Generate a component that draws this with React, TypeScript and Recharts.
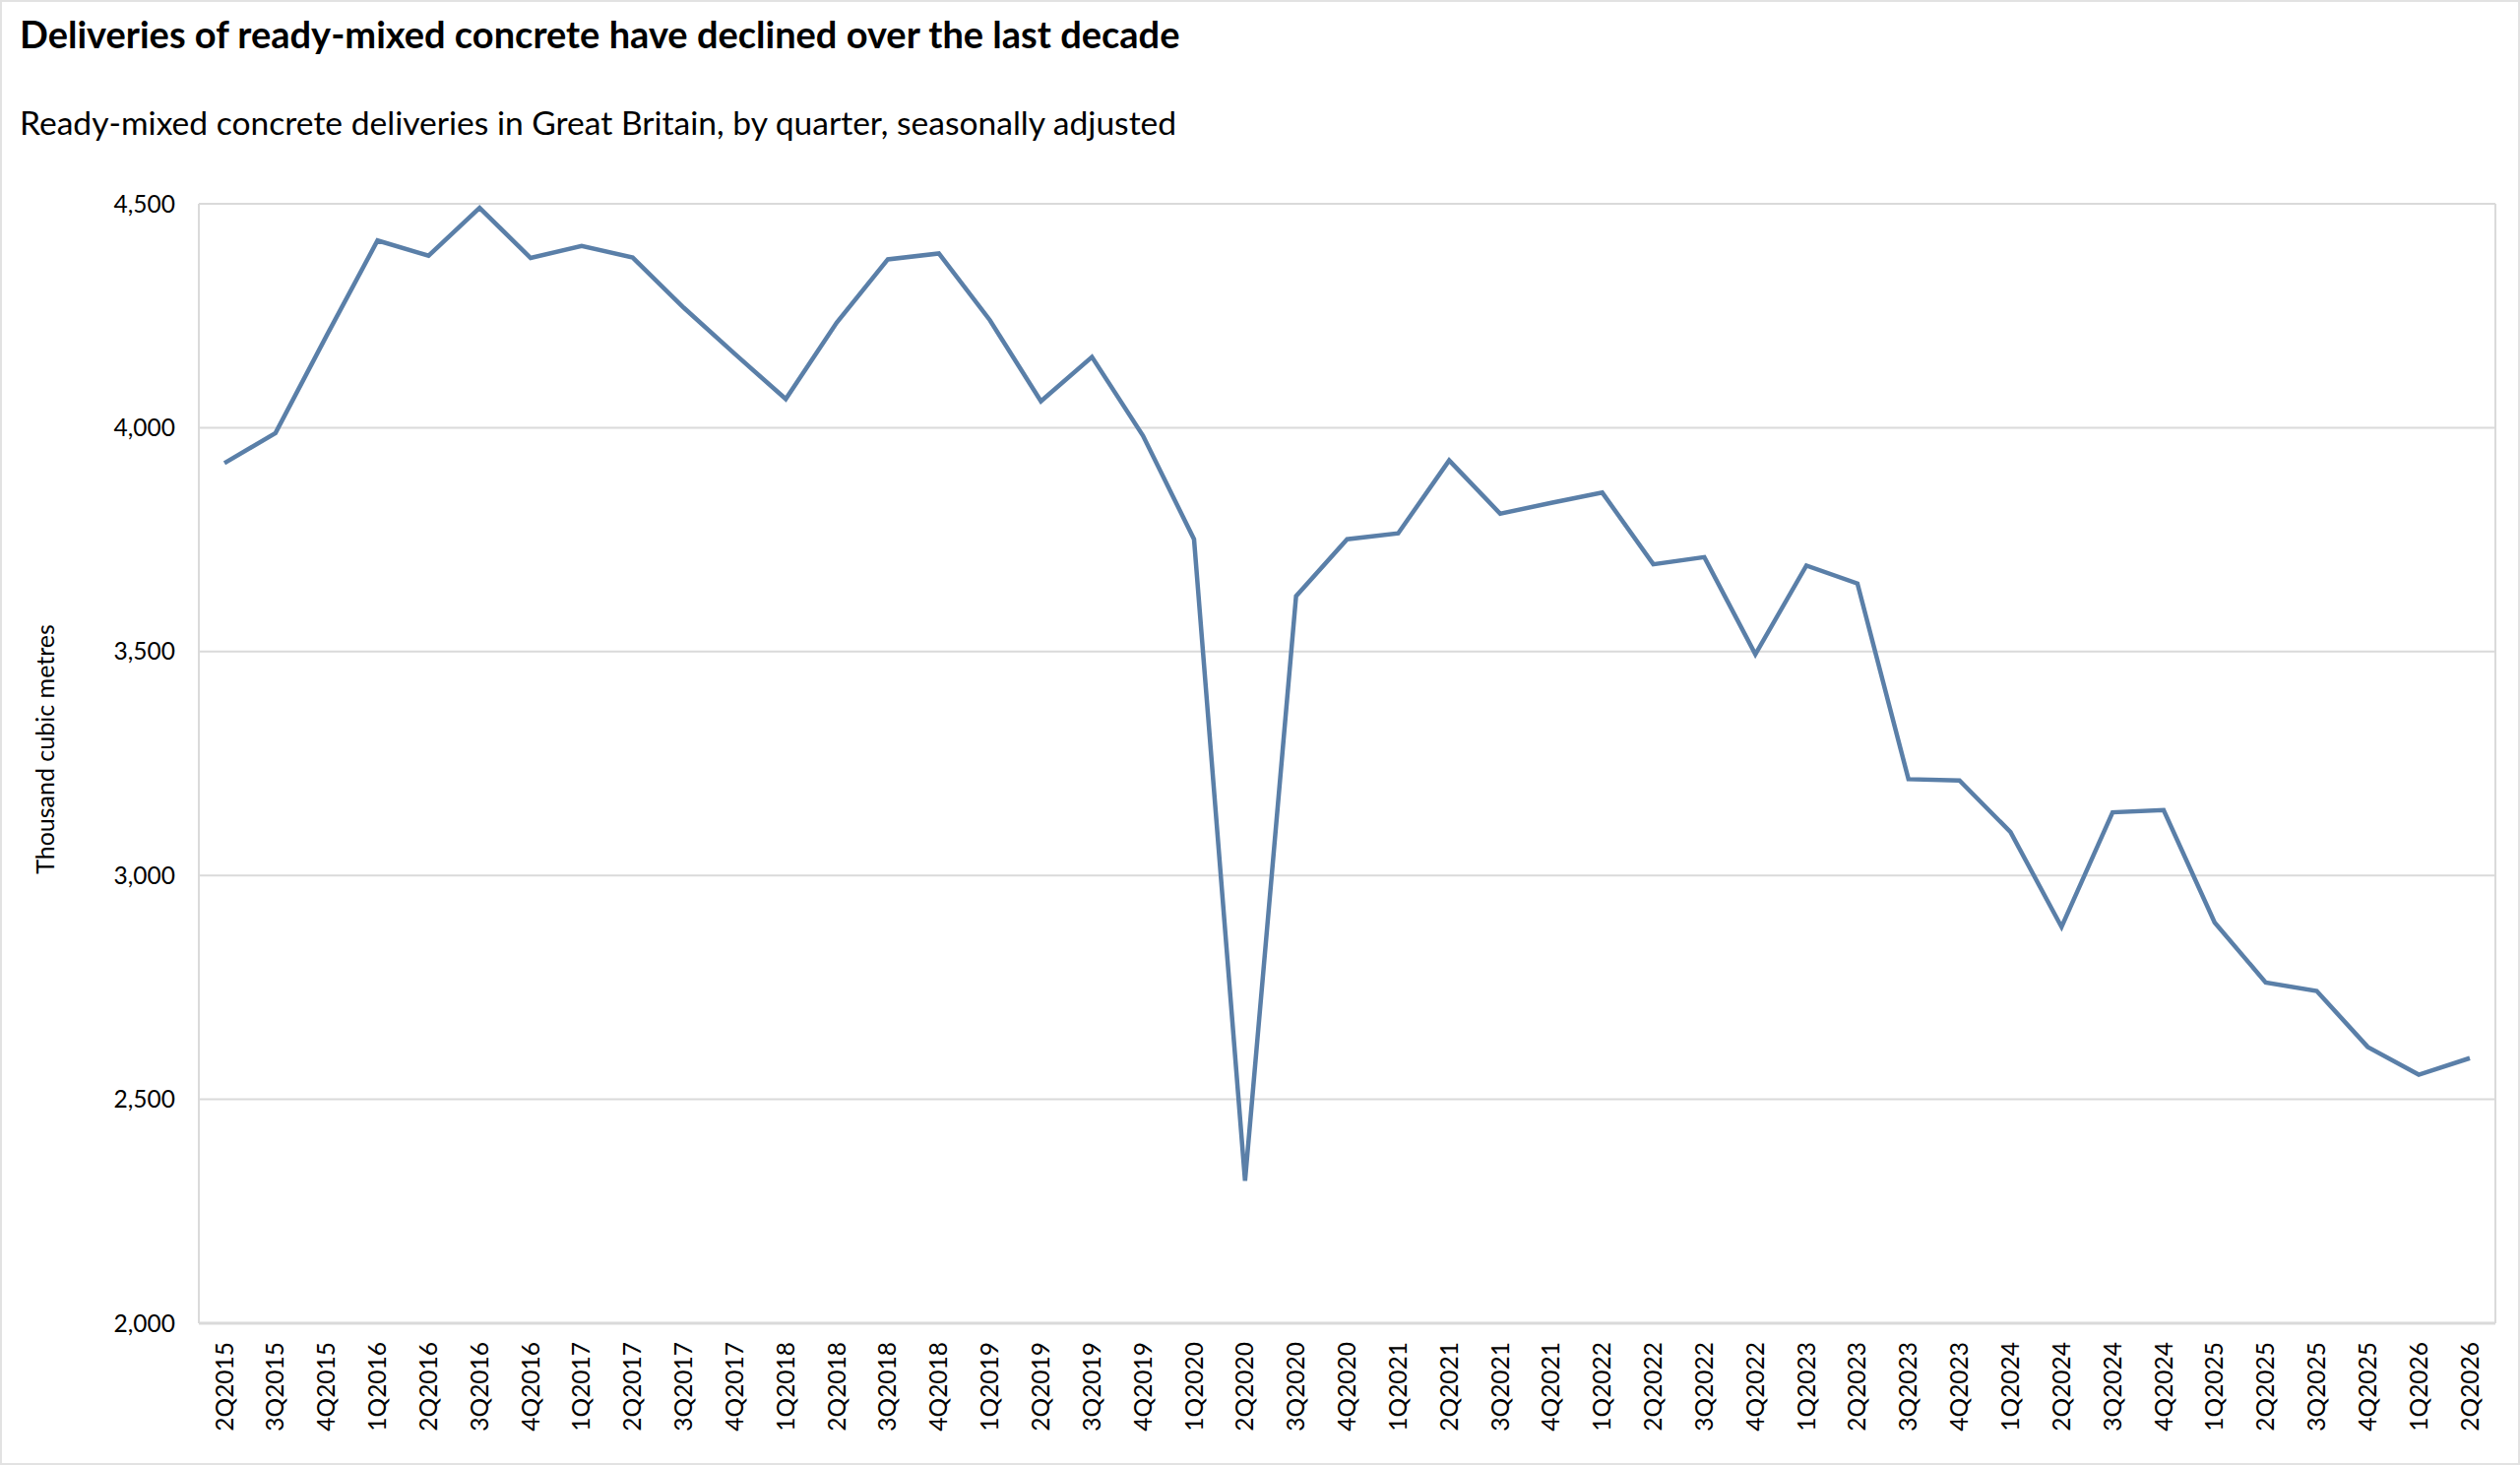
import React from "react";
import { LineChart, Line, XAxis, YAxis, CartesianGrid } from "recharts";

document.body.style.margin = "0";

const quarters = [
  "2Q2015", "3Q2015", "4Q2015",
  "1Q2016", "2Q2016", "3Q2016", "4Q2016",
  "1Q2017", "2Q2017", "3Q2017", "4Q2017",
  "1Q2018", "2Q2018", "3Q2018", "4Q2018",
  "1Q2019", "2Q2019", "3Q2019", "4Q2019",
  "1Q2020", "2Q2020", "3Q2020", "4Q2020",
  "1Q2021", "2Q2021", "3Q2021", "4Q2021",
  "1Q2022", "2Q2022", "3Q2022", "4Q2022",
  "1Q2023", "2Q2023", "3Q2023", "4Q2023",
  "1Q2024", "2Q2024", "3Q2024", "4Q2024",
  "1Q2025", "2Q2025", "3Q2025", "4Q2025",
  "1Q2026", "2Q2026",
];

// thousand cubic metres, seasonally adjusted
const deliveries = [
  3921, 3988, 4205,
  4418, 4384, 4491, 4379,
  4406, 4380, 4268, 4165,
  4064, 4235, 4376, 4389,
  4240, 4059, 4158, 3982,
  3751, 2318, 3624, 3751,
  3764, 3927, 3808, 3832,
  3855, 3695, 3711, 3494,
  3692, 3652, 3215, 3212,
  3097, 2885, 3141, 3146,
  2895, 2761, 2742, 2617,
  2555, 2592,
];

const yTicks = [2000, 2500, 3000, 3500, 4000, 4500];

const title = "Deliveries of ready-mixed concrete have declined over the last decade";
const subtitle = "Ready-mixed concrete deliveries in Great Britain, by quarter, seasonally adjusted";
const yTitle = "Thousand cubic metres";

const data = quarters.map((q, i) => ({ q, value: deliveries[i] }));

const FONT = "Lato, 'Noto Sans', sans-serif";
const GRID = "#dadada";

function QuarterTick(props: any) {
  const { x, y, payload } = props;
  return (
    <text
      x={x}
      y={y}
      dy="0.35em"
      transform={`rotate(-90 ${x} ${y})`}
      textAnchor="end"
      fontFamily={FONT}
      fontSize={24.5}
      fill="#000"
    >
      {payload.value}
    </text>
  );
}

export default function App() {
  return (
    <div style={{ position: "relative", width: 2560, height: 1488, background: "#fff" }}>
      <svg width={2560} height={200} style={{ position: "absolute", left: 0, top: 0 }}>
        <text x={20} y={49} fontFamily={FONT} fontWeight={700} fontSize={38} fill="#000">
          {title}
        </text>
        <text x={20} y={137} fontFamily={FONT} fontSize={33.6} fill="#000">
          {subtitle}
        </text>
      </svg>
      <LineChart
        width={2560}
        height={1488}
        data={data}
        margin={{ top: 207, right: 0, bottom: 1, left: 0 }}
        style={{ position: "absolute", left: 0, top: 0 }}
      >
        <CartesianGrid vertical={false} stroke={GRID} strokeWidth={2} />
        <XAxis
          dataKey="q"
          interval={0}
          height={143}
          padding={{ left: 26, right: 26 }}
          axisLine={{ stroke: GRID, strokeWidth: 3 }}
          tickLine={false}
          tickSize={0}
          tickMargin={19}
          tick={<QuarterTick />}
        />
        <YAxis
          width={202}
          domain={[2000, 4500]}
          ticks={yTicks}
          tickFormatter={(v: number) => v.toLocaleString("en-GB")}
          axisLine={{ stroke: GRID, strokeWidth: 2 }}
          tickLine={false}
          tickSize={0}
          tickMargin={24}
          tick={{ fontFamily: FONT, fontSize: 24.5, fill: "#000" }}
          label={{
            content: () => (
              <text
                x={55}
                y={761}
                transform="rotate(-90 55 761)"
                textAnchor="middle"
                fontFamily={FONT}
                fontSize={25}
                fill="#000"
              >
                {yTitle}
              </text>
            ),
          }}
        />
        <YAxis
          yAxisId="frame"
          orientation="right"
          width={25}
          domain={[2000, 4500]}
          tick={false}
          tickLine={false}
          axisLine={{ stroke: GRID, strokeWidth: 2 }}
        />
        <Line
          type="linear"
          dataKey="value"
          stroke="#5a7fa8"
          strokeWidth={4.5}
          dot={false}
          isAnimationActive={false}
        />
      </LineChart>
      <div
        style={{
          position: "absolute",
          inset: 0,
          border: "2px solid #e2e2e2",
          pointerEvents: "none",
        }}
      />
    </div>
  );
}
